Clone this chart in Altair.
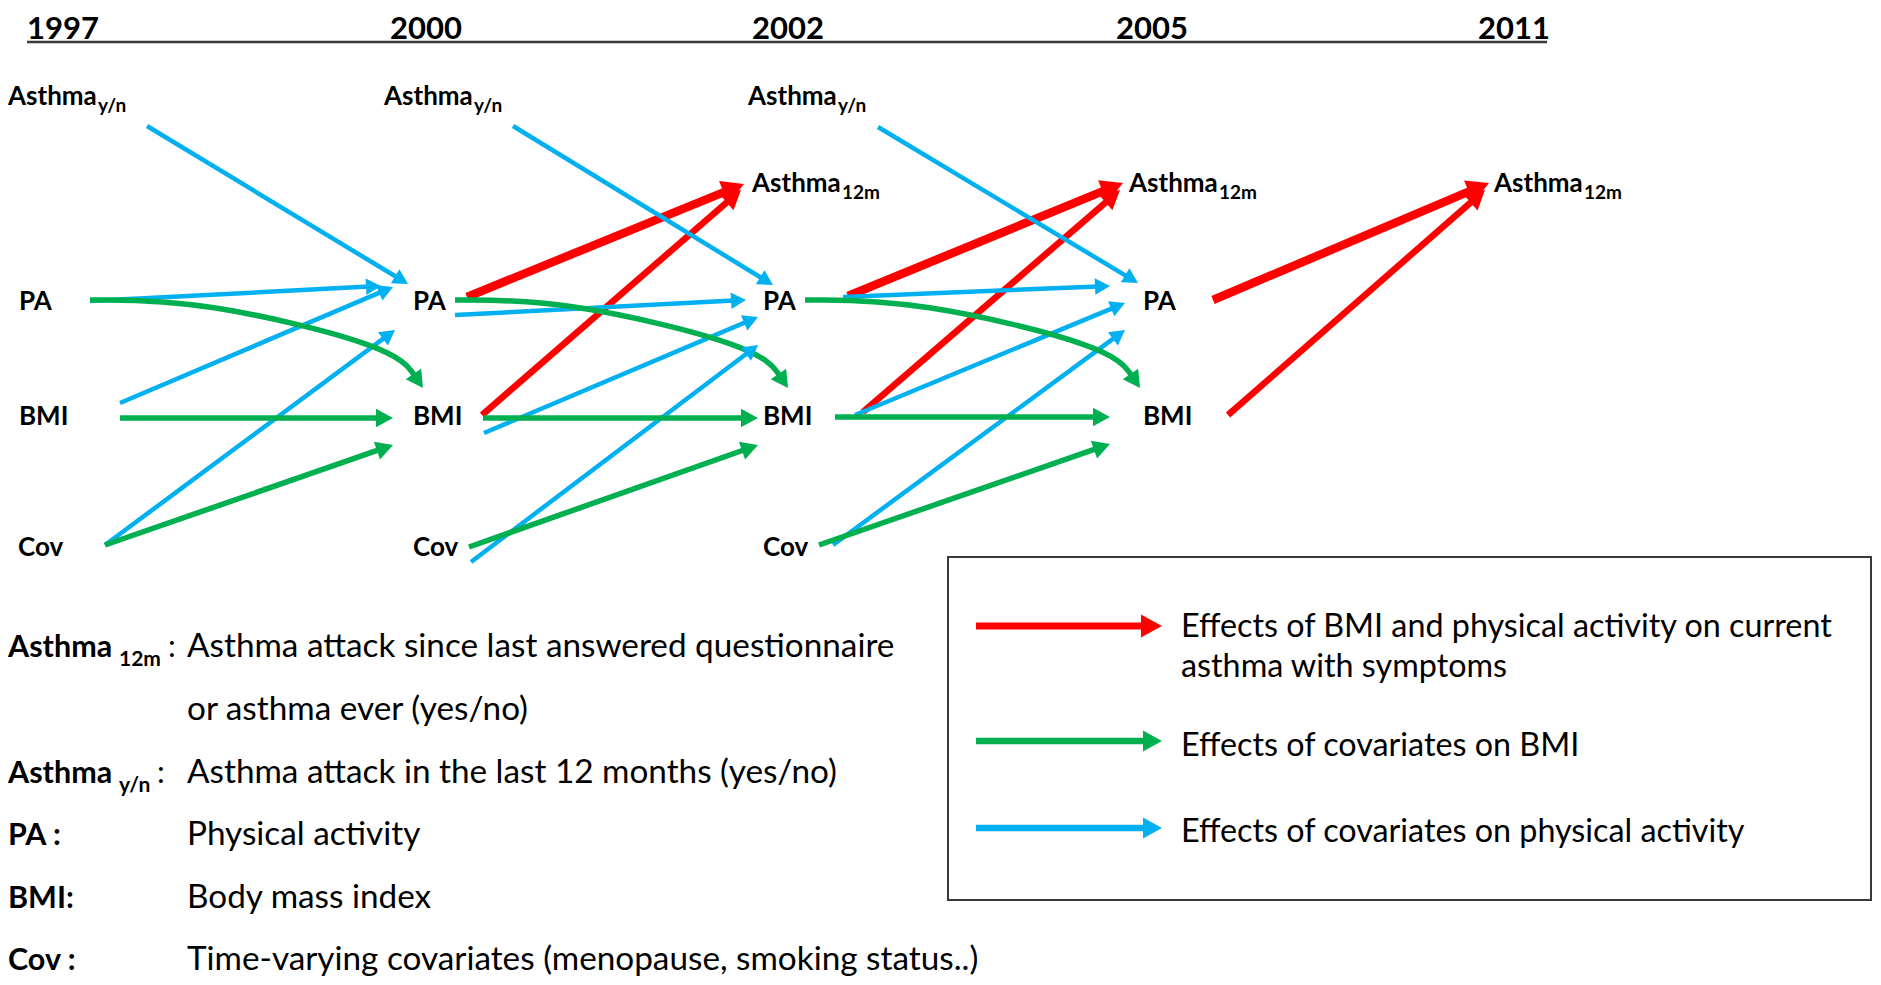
import math
import altair as alt
import pandas as pd

# ---------------- data ----------------
years = ["1997", "2000", "2002", "2005", "2011"]
year_x = [27, 390, 752, 1116, 1478]
year_base = 39
underline_x = [27, 1547]
underline_y = 42

node_label = ["Asthma", "PA", "BMI", "Cov",
              "Asthma", "PA", "BMI", "Cov",
              "Asthma", "Asthma", "PA", "BMI", "Cov",
              "Asthma", "PA", "BMI",
              "Asthma"]
node_sub = ["y/n", "", "", "",
            "y/n", "", "", "",
            "y/n", "12m", "", "", "",
            "12m", "", "",
            "12m"]
node_x = [8, 19, 19, 18,
          384, 413, 413, 413,
          748, 752, 763, 763, 763,
          1129, 1143, 1143,
          1494]
node_y = [105, 310, 425, 556,
          105, 310, 425, 556,
          105, 192, 310, 425, 556,
          192, 310, 425,
          192]

# arrows: kind R = effect on asthma, G = effect on BMI, B = effect on PA
arr_kind = ["B", "B", "B", "B", "G", "G", "G",
            "R", "R", "B", "B", "B", "B", "G", "G", "G",
            "R", "R", "B", "B", "B", "B", "G", "G", "G",
            "R", "R",
            "R", "G", "B"]
arr_x0 = [147, 90, 120, 105, 90, 120, 105,
          467, 482, 513, 455, 484, 471, 455, 483, 469,
          848, 863, 878, 843, 855, 833, 805, 835, 819,
          1213, 1228,
          976, 976, 976]
arr_y0 = [126, 301, 403, 545, 300, 418, 545,
          297, 415, 126, 315, 433, 562, 300, 418, 547,
          296, 412, 127, 297, 415, 545, 300, 417, 545,
          300, 415,
          626, 741, 828]
arr_x1 = [408, 381, 393, 395, 423, 393, 393,
          744, 741, 773, 746, 758, 758, 788, 758, 758,
          1123, 1120, 1138, 1110, 1125, 1125, 1140, 1110, 1110,
          1489, 1485,
          1162, 1162, 1162]
arr_y1 = [284, 286, 287, 330, 388, 418, 445,
          184, 190, 285, 300, 317, 345, 388, 418, 445,
          183, 190, 283, 286, 303, 330, 388, 417, 444,
          183, 190,
          626, 741, 828]
arr_w = [4.5, 4.5, 4.5, 4.5, 5.5, 5.5, 5.5,
         8.5, 6.5, 4.5, 4.5, 4.5, 4.5, 5.5, 5.5, 5.5,
         8.5, 6.5, 4.5, 4.5, 4.5, 4.5, 5.5, 5.5, 5.5,
         8.5, 6.5,
         7, 6.5, 6.5]
# curved arrows (PA -> BMI): two control points each
curve_idx = [4, 13, 22]
curve_c1x = [200, 565, 915]
curve_c1y = [300, 300, 300]
curve_c2x = [395, 760, 1112]
curve_c2y = [347, 347, 347]

def_label = ["Asthma", "", "Asthma", "PA :", "BMI:", "Cov :"]
def_sub = ["12m", "", "y/n", "", "", ""]
def_colon_x = [168, None, 157, None, None, None]
def_text = ["Asthma attack since last answered questionnaire",
            "or asthma ever (yes/no)",
            "Asthma attack in the last 12 months (yes/no)",
            "Physical activity",
            "Body mass index",
            "Time-varying covariates (menopause, smoking status..)"]
def_base = [657, 720, 783, 845, 908, 970]

leg_text = ["Effects of BMI and physical activity on current",
            "asthma with symptoms",
            "Effects of covariates on BMI",
            "Effects of covariates on physical activity"]
leg_base = [637, 677, 756, 842]
leg_box = [948, 557, 1871, 900]

# ---------------- styles ----------------
RED, GREEN, BLUE = "#ff0000", "#00b050", "#00b0f0"
FONT = "Lato"
W, H = 1864, 969
XD = [8, 8 + W]
YD = [8, 8 + H]
SHAPE = "M0,0L0.55,1L-0.55,1Z"
NODE_SUB_DX = 90
DEF_SUB_DX = 111


def head_len(w):
    return {4.5: 15, 5.5: 17, 6.5: 19, 7: 21, 8.5: 22}[w]


xs = alt.Scale(domain=XD, nice=False, zero=False)
ys = alt.Scale(domain=YD, nice=False, zero=False, reverse=True)
X = lambda f: alt.X(f, type="quantitative", scale=xs, axis=None)
Y = lambda f: alt.Y(f, type="quantitative", scale=ys, axis=None)
colscale = alt.Scale(domain=["R", "G", "B"], range=[RED, GREEN, BLUE])

# ---------------- build arrow tables ----------------
line_rows, head_rows = [], []
for i, k in enumerate(arr_kind):
    pts = [(arr_x0[i], arr_y0[i])]
    if i in curve_idx:
        j = curve_idx.index(i)
        pts += [(curve_c1x[j], curve_c1y[j]), (curve_c2x[j], curve_c2y[j])]
    tip = (arr_x1[i], arr_y1[i])
    px, py = pts[-1]
    dx, dy = tip[0] - px, tip[1] - py
    L = math.hypot(dx, dy)
    ux, uy = dx / L, dy / L
    hl = head_len(arr_w[i])
    back = hl * 0.8
    end = (tip[0] - ux * back, tip[1] - uy * back)
    pts.append(end)
    for o, (x, y) in enumerate(pts):
        line_rows.append({"id": i, "o": o, "x": x, "y": y, "kind": k, "w": arr_w[i]})
    ang = (math.degrees(math.atan2(ux, -uy)) + 360) % 360
    head_rows.append({"id": i, "x": tip[0], "y": tip[1], "kind": k,
                      "ang": ang, "size": 4 * hl * hl})
lines_df = pd.DataFrame(line_rows)
heads_df = pd.DataFrame(head_rows)

lines = alt.Chart(lines_df).mark_line(interpolate="basis", strokeCap="butt").encode(
    x=X("x"), y=Y("y"), detail="id:N", order="o:Q",
    color=alt.Color("kind:N", scale=colscale, legend=None),
    strokeWidth=alt.StrokeWidth("w:Q", scale=None),
)
heads = alt.Chart(heads_df).mark_point(shape=SHAPE, filled=True, opacity=1, strokeWidth=0).encode(
    x=X("x"), y=Y("y"),
    color=alt.Color("kind:N", scale=colscale, legend=None),
    angle=alt.Angle("ang:Q", scale=None),
    size=alt.Size("size:Q", scale=None),
)

# ---------------- frame pieces ----------------
ul_df = pd.DataFrame({"x": [underline_x[0]], "x2": [underline_x[1]], "y": [underline_y]})
underline = alt.Chart(ul_df).mark_rule(color="#3a3a3a", strokeWidth=2.5).encode(
    x=X("x"), x2="x2:Q", y=Y("y"))

box_df = pd.DataFrame({"x": [leg_box[0]], "y": [leg_box[1]], "x2": [leg_box[2]], "y2": [leg_box[3]]})
box = alt.Chart(box_df).mark_rect(fill="white", stroke="#3a3a3a", strokeWidth=2).encode(
    x=X("x"), x2="x2:Q", y=Y("y"), y2="y2:Q")


# ---------------- texts ----------------
def text_layer(df, size, weight="normal"):
    return alt.Chart(df).mark_text(font=FONT, fontSize=size, fontWeight=weight,
                                   align="left", baseline="alphabetic", color="black").encode(
        x=X("x"), y=Y("y"), text="t:N")


yr_df = pd.DataFrame({"t": years, "x": year_x, "y": [year_base] * len(years)})
nd_df = pd.DataFrame({"t": node_label, "x": node_x, "y": node_y})
ns_df = pd.DataFrame({"t": node_sub, "x": [x + NODE_SUB_DX for x in node_x],
                      "y": [y + 7 for y in node_y]})
ns_df = ns_df[ns_df.t != ""]

dl_df = pd.DataFrame({"t": def_label, "x": [8] * len(def_label), "y": def_base})
dl_df = dl_df[dl_df.t != ""]
ds_df = pd.DataFrame({"t": def_sub, "x": [8 + DEF_SUB_DX] * len(def_sub),
                      "y": [y + 9 for y in def_base]})
ds_df = ds_df[ds_df.t != ""]
dc_df = pd.DataFrame({"t": [":" for c in def_colon_x if c is not None],
                      "x": [c for c in def_colon_x if c is not None],
                      "y": [def_base[i] for i, c in enumerate(def_colon_x) if c is not None]})
dt_df = pd.DataFrame({"t": def_text, "x": [187] * len(def_text), "y": def_base})
lt_df = pd.DataFrame({"t": leg_text, "x": [1181] * len(leg_text), "y": leg_base})

chart = alt.layer(
    box,
    underline,
    lines,
    heads,
    text_layer(yr_df, 31, "bold"),
    text_layer(nd_df, 26, "bold"),
    text_layer(ns_df, 19, "bold"),
    text_layer(dl_df, 30.5, "bold"),
    text_layer(ds_df, 21, "bold"),
    text_layer(dc_df, 31),
    text_layer(dt_df, 33.3),
    text_layer(lt_df, 32.3),
).properties(
    width=W, height=H, padding=0,
    autosize=alt.AutoSizeParams(type="none"),
    background="white",
).configure_view(stroke=None)

chart.save("out.html", embed_options={"renderer": "svg", "actions": False})
